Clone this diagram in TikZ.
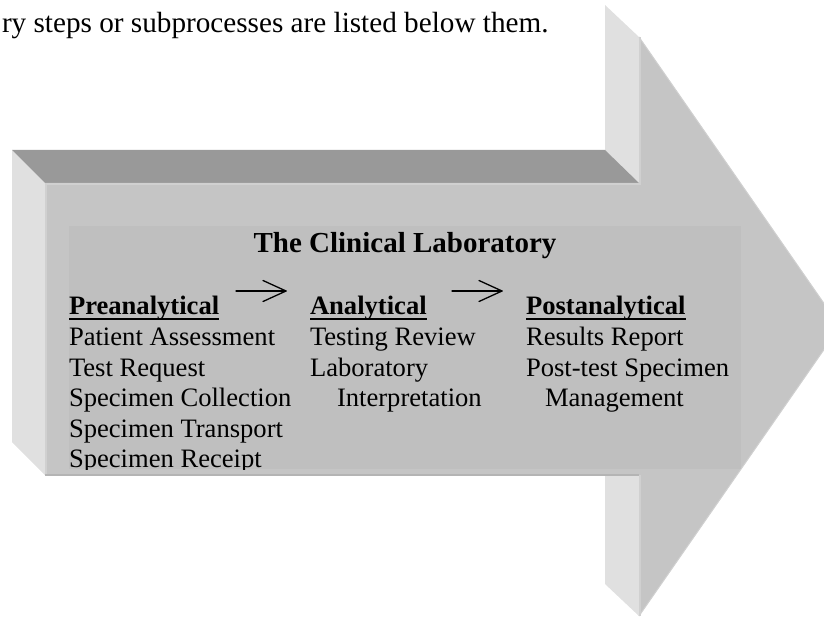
\documentclass[tikz,border=0pt]{standalone}
\usepackage{fontspec}
\setmainfont{Liberation Serif}
\definecolor{lightface}{HTML}{E0E0E0}
\definecolor{topface}{HTML}{999999}
\definecolor{frontface}{HTML}{C5C5C5}
\definecolor{innerface}{HTML}{BFBFBF}
\definecolor{edgelight}{HTML}{D0D0D0}
\definecolor{edgedark}{HTML}{B4B4B4}
\newcommand\myul[1]{\setbox0\hbox{#1}\rlap{\rule[-5pt]{\wd0}{2.3pt}}\box0}
\begin{document}
\begin{tikzpicture}[x=1pt,y=-1pt,
  txt/.style={anchor=base west,inner sep=0pt,outer sep=0pt,font=\fontsize{26.6}{30.5}\selectfont},
  ttl/.style={anchor=base,inner sep=0pt,outer sep=0pt,font=\fontsize{29}{33}\selectfont\bfseries},
  intro/.style={anchor=base west,inner sep=0pt,outer sep=0pt,font=\fontsize{29.2}{33}\selectfont},
  arr/.style={line width=1.3pt,line cap=round,line join=round},
  hilite/.style={draw=edgelight,line width=1.5pt}]
\useasboundingbox (0,0) rectangle (824,617);
\clip (0,0) rectangle (824,617);

% intro text (cut at the left edge)
\node[intro] (intro) at (2,33) {ry steps or subprocesses are listed below them.};

% side faces of the 3D arrow
\fill[lightface] (12,150) -- (45,183) -- (45,475) -- (12,442) -- cycle;
\fill[lightface] (605,5) -- (639,37) -- (639,183) -- (605,150) -- cycle;
\fill[lightface] (605,442) -- (639,475) -- (639,616) -- (605,584) -- cycle;
\fill[topface] (12,150) -- (605,150) -- (639,183) -- (45,183) -- cycle;
% front face
\fill[frontface] (45,183) -- (639,183) -- (639,37) -- (840,326.5) -- (639,616)
  -- (639,475) -- (45,475) -- cycle;
% edge highlights on the front face
\draw[hilite] (45.8,475) -- (45.8,183.8) -- (639.8,183.8) -- (639.8,37.5);
\draw[hilite] (639.8,475) -- (639.8,616);
\draw[edgelight,line width=1pt] (639,37) -- (840,326.5) -- (639,616);
\draw[edgedark,line width=1.5pt] (45,475) -- (639,475);
% inner text panel
\fill[innerface] (69,226) rectangle (741,469);

\begin{scope}
\clip (69,226) rectangle (741,469);
\node[ttl] (title) at (405,253) {The Clinical Laboratory};

\node[txt] (preh) at (69,315) {\myul{\bfseries Preanalytical}};
\node[txt] (pre1) at (69,345.5) {Patient Assessment};
\node[txt] (pre2) at (69,376) {Test Request};
\node[txt] (pre3) at (69,406.5) {Specimen Collection};
\node[txt] (pre4) at (69,437) {Specimen Transport};
\node[txt] (pre5) at (69,467.5) {Specimen Receipt};

\node[txt] (anah) at (310,315) {\myul{\bfseries Analytical}};
\node[txt] (ana1) at (310,345.5) {Testing Review};
\node[txt] (ana2) at (310,376) {Laboratory};
\node[txt] (ana3) at (337,406.5) {Interpretation};

\node[txt] (posth) at (526,315) {\myul{\bfseries Postanalytical}};
\node[txt] (post1) at (526,345.5) {Results Report};
\node[txt] (post2) at (526,376) {Post-test Specimen};
\node[txt] (post3) at (545,406.5) {Management};

\coordinate (a1s) at (236,291);
\coordinate (a1e) at (286,291);
\coordinate (a2s) at (452,291);
\coordinate (a2e) at (502,291);
\draw[arr] (a1s) -- (a1e);
\draw[arr] (a1e) ++(-23,-10.5) -- (a1e) -- ++(-23,10.5);
\draw[arr] (a2s) -- (a2e);
\draw[arr] (a2e) ++(-23,-10.5) -- (a2e) -- ++(-23,10.5);
\end{scope}
\end{tikzpicture}
\end{document}
